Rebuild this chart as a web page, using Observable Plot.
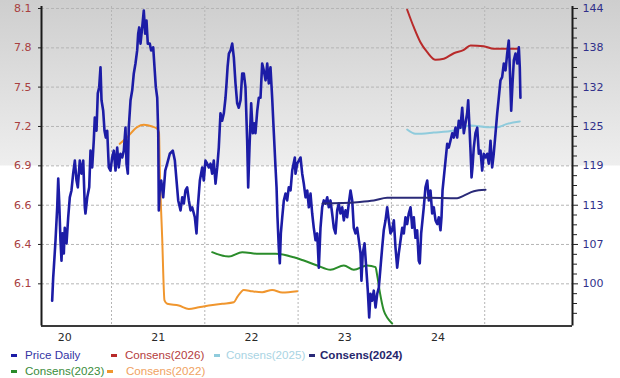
<!DOCTYPE html>
<html>
<head>
<meta charset="utf-8">
<script src="https://cdn.jsdelivr.net/npm/d3@7"></script>
<script src="https://cdn.jsdelivr.net/npm/@observablehq/plot@0.6"></script>
<style>
  html, body { margin: 0; padding: 0; }
  body {
    width: 620px; height: 378px; overflow: hidden;
    background: linear-gradient(to bottom, #cecece 0px, #eeeeee 165px, #ffffff 166px, #ffffff 378px);
    font-family: "Liberation Sans", Arial, sans-serif;
  }
  #legend { position: relative; width: 620px; height: 33px; font-size: 11.6px; }
  .item { position: absolute; white-space: nowrap; line-height: 14px; }
  .dash { position: absolute; width: 6px; height: 3px; }
</style>
</head>
<body>
<div id="chart"></div>
<div id="legend"></div>
<script>
// ---- data (x = decimal year) ----
const priceYears = [2020.364,2020.375,2020.382,2020.400,2020.418,2020.429,2020.439,2020.453,2020.464,2020.475,2020.489,2020.499,2020.518,2020.536,2020.553,2020.571,2020.589,2020.607,2020.625,2020.639,2020.660,2020.678,2020.697,2020.714,2020.721,2020.740,2020.761,2020.775,2020.793,2020.810,2020.821,2020.839,2020.853,2020.868,2020.882,2020.893,2020.911,2020.925,2020.939,2020.954,2020.971,2020.989,2021.007,2021.025,2021.043,2021.061,2021.078,2021.096,2021.115,2021.132,2021.150,2021.161,2021.175,2021.185,2021.204,2021.222,2021.239,2021.257,2021.275,2021.286,2021.297,2021.311,2021.329,2021.346,2021.361,2021.375,2021.389,2021.410,2021.425,2021.447,2021.461,2021.475,2021.490,2021.501,2021.507,2021.518,2021.533,2021.554,2021.576,2021.597,2021.625,2021.657,2021.679,2021.697,2021.715,2021.740,2021.758,2021.775,2021.793,2021.811,2021.829,2021.847,2021.865,2021.893,2021.911,2021.925,2021.947,2021.972,2021.989,2022.007,2022.026,2022.043,2022.061,2022.079,2022.096,2022.115,2022.133,2022.150,2022.168,2022.186,2022.204,2022.222,2022.233,2022.244,2022.258,2022.276,2022.294,2022.311,2022.329,2022.347,2022.364,2022.383,2022.401,2022.418,2022.436,2022.454,2022.465,2022.479,2022.497,2022.514,2022.529,2022.543,2022.562,2022.579,2022.597,2022.615,2022.632,2022.651,2022.669,2022.686,2022.704,2022.722,2022.740,2022.758,2022.769,2022.779,2022.793,2022.804,2022.815,2022.830,2022.847,2022.865,2022.883,2022.900,2022.919,2022.937,2022.965,2022.972,2022.990,2023.008,2023.026,2023.044,2023.061,2023.080,2023.098,2023.115,2023.133,2023.151,2023.168,2023.187,2023.205,2023.222,2023.240,2023.258,2023.275,2023.294,2023.312,2023.329,2023.347,2023.365,2023.383,2023.401,2023.419,2023.436,2023.454,2023.473,2023.490,2023.508,2023.526,2023.543,2023.562,2023.580,2023.597,2023.615,2023.633,2023.651,2023.669,2023.679,2023.693,2023.712,2023.730,2023.747,2023.762,2023.776,2023.794,2023.811,2023.830,2023.848,2023.865,2023.883,2023.901,2023.918,2023.937,2023.955,2023.972,2023.990,2024.008,2024.026,2024.044,2024.062,2024.079,2024.098,2024.116,2024.133,2024.151,2024.169,2024.186,2024.205,2024.223,2024.240,2024.258,2024.276,2024.293,2024.304,2024.319,2024.333,2024.347,2024.365,2024.384,2024.401,2024.419,2024.437,2024.454,2024.473,2024.491,2024.508,2024.526,2024.537,2024.548,2024.562,2024.580,2024.598,2024.615,2024.633,2024.652,2024.669,2024.687,2024.705,2024.722,2024.740,2024.759,2024.776,2024.794,2024.812,2024.823,2024.837,2024.848,2024.859,2024.869,2024.883,2024.901,2024.920,2024.937,2024.955,2024.973,2024.990,2025.009,2025.027,2025.044,2025.062,2025.080,2025.097,2025.116,2025.134,2025.151,2025.169,2025.187,2025.205,2025.223,2025.241,2025.258,2025.269,2025.284,2025.298,2025.312,2025.330,2025.348,2025.366,2025.376,2025.383];
const priceValues = [97.3,101.0,102.6,107.0,112.3,116.9,113.4,107.0,103.7,108.1,104.9,109.0,106.5,110.7,113.9,115.0,117.7,119.8,116.6,115.5,119.8,117.7,119.8,112.3,111.3,113.9,115.5,121.4,118.7,123.0,126.7,124.6,130.6,131.6,134.8,129.5,127.8,124.6,123.5,124.6,118.7,118.2,120.3,121.4,118.2,121.9,118.7,120.9,120.3,121.4,125.1,119.3,117.7,125.1,129.5,131.1,133.8,135.4,137.5,140.2,141.2,138.6,141.2,143.9,140.2,142.3,138.6,138.6,137.5,138.0,134.8,131.6,129.9,124.2,111.8,115.5,116.6,113.9,118.2,119.3,120.9,121.4,119.8,116.6,113.4,111.8,113.9,112.9,115.0,115.5,113.4,111.8,112.3,110.7,108.1,112.3,116.6,118.7,116.6,119.8,119.3,118.7,119.3,117.7,119.8,116.1,118.7,121.9,127.4,126.2,127.4,129.9,132.2,134.8,137.0,137.5,138.6,136.4,132.2,129.0,128.3,129.5,133.8,133.8,131.6,123.0,115.5,121.9,129.0,124.2,125.8,124.2,127.8,129.9,129.9,135.4,134.3,132.7,135.4,132.2,134.8,129.9,124.2,118.7,115.5,110.7,105.8,103.3,108.1,110.7,113.4,114.5,113.4,115.5,115.0,118.2,120.3,117.7,119.3,119.8,120.3,117.7,116.1,113.9,115.0,112.3,114.5,111.3,109.0,107.0,108.1,102.6,109.0,112.3,113.4,112.9,113.9,112.3,113.4,111.3,109.0,108.1,111.8,112.9,111.3,112.3,110.2,111.8,110.7,112.9,115.0,113.4,109.0,108.1,109.0,107.0,104.9,100.5,104.9,106.5,102.6,98.9,94.6,98.4,97.3,98.9,96.2,98.4,99.4,102.6,105.8,108.6,110.2,112.3,110.2,108.1,108.6,110.2,105.8,102.6,104.9,107.0,109.0,108.1,110.7,109.6,111.3,112.3,109.0,110.7,107.4,108.6,103.7,103.3,108.1,110.2,112.3,115.5,116.6,113.4,115.0,111.3,112.3,110.2,109.6,110.7,108.6,110.7,115.0,117.1,119.8,122.5,121.9,123.0,124.2,123.5,125.1,123.5,126.2,125.1,128.3,124.2,125.8,127.4,129.5,125.1,121.4,117.1,118.7,121.9,124.2,125.1,120.9,121.4,118.2,120.9,120.3,120.9,119.3,123.0,118.7,120.9,124.2,127.4,129.9,132.7,133.2,135.4,134.3,137.0,139.1,134.8,127.8,132.2,135.9,137.0,135.4,138.0,134.8,129.9];

const cons2026Years = [2024.169,2024.240,2024.311,2024.384,2024.473,2024.562,2024.669,2024.776,2024.848,2024.990,2025.097,2025.241,2025.366];
const cons2026Values = [8.091,7.964,7.855,7.783,7.727,7.735,7.775,7.800,7.831,7.826,7.807,7.807,7.807];
const cons2025Years = [2024.169,2024.258,2024.454,2024.669,2024.848,2025.027,2025.134,2025.241,2025.376];
const cons2025Values = [7.221,7.190,7.199,7.214,7.250,7.238,7.238,7.262,7.279];
const cons2024Years = [2023.262,2023.633,2023.811,2023.955,2024.098,2024.384,2024.705,2024.776,2024.883,2025.009];
const cons2024Values = [6.683,6.693,6.705,6.725,6.725,6.725,6.722,6.741,6.773,6.783];
const cons2023Years = [2022.079,2022.258,2022.401,2022.579,2022.758,2022.954,2023.061,2023.205,2023.347,2023.490,2023.597,2023.740,2023.830,2023.848,2023.876,2023.918,2023.960,2024.008];
const cons2023Values = [6.330,6.298,6.330,6.318,6.318,6.293,6.269,6.233,6.202,6.233,6.202,6.233,6.221,6.160,6.040,5.906,5.850,5.812];
const cons2022Years = [2021.089,2021.168,2021.275,2021.346,2021.436,2021.490,2021.509,2021.518,2021.543,2021.568,2021.597,2021.721,2021.829,2021.936,2022.043,2022.186,2022.311,2022.347,2022.418,2022.508,2022.615,2022.722,2022.830,2022.990];
const cons2022Values = [7.117,7.165,7.238,7.255,7.243,7.226,7.200,6.923,6.436,5.979,5.955,5.942,5.918,5.930,5.942,5.955,5.966,6.003,6.056,6.046,6.039,6.056,6.037,6.046];

const leftTickValues = [6.1, 6.386, 6.671, 6.957, 7.243, 7.529, 7.814, 8.1];
const leftTickLabels = ["6.1", "6.4", "6.6", "6.9", "7.2", "7.5", "7.8", "8.1"];
const rightTickLabels = ["100", "107", "113", "119", "125", "132", "138", "144"];
const yearBoundaries = [2021, 2022, 2023, 2024, 2025];
const xLabelYears = [2020.5, 2021.5, 2022.5, 2023.5, 2024.5];
const xTickLabels = ["20", "21", "22", "23", "24"];

const seriesNames = ["Price Daily", "Consens(2026)", "Consens(2025)", "Consens(2024)", "Consens(2023)", "Consens(2022)"];
const seriesColors = ["#1c1ca6", "#b82a2a", "#8fcbdc", "#2a2a78", "#2a8c2a", "#f0962e"];
const legendTextColors = ["#3434a4", "#b43c3c", "#a9d4e3", "#26266c", "#3a8c3a", "#f0a262"];

// ---- helpers ----
// right axis (price) mapped onto left (consensus) units
const K = 6.223 / 137.65;
const toLeft = p => 6.1 + (p - 100) * K;
const zip = (xs, ys) => xs.map((x, i) => ({x, y: ys[i]}));

const price = priceYears.map((x, i) => ({x, y: toLeft(priceValues[i])}));
const c2026 = zip(cons2026Years, cons2026Values);
const c2025 = zip(cons2025Years, cons2025Values);
const c2024 = zip(cons2024Years, cons2024Values);
const c2023 = zip(cons2023Years, cons2023Values);
const c2022 = zip(cons2022Years, cons2022Values);

const xDomain = [2020.2497, 2025.941];
const yDomain = [5.793, 8.1145];
const step = (leftTickValues[7] - leftTickValues[0]) / 7 / 4;
const minorTicks = d3.range(-4, 29).filter(j => j % 4 !== 0).map(j => 6.1 + j * step).filter(v => v > yDomain[0] && v < yDomain[1]);
const idx = (arr, d) => arr.findIndex(t => Math.abs(t - d) < 1e-6);

const consLine = (data, color) => Plot.line(data, {x: "x", y: "y", stroke: color, strokeWidth: 2, curve: "monotone-x"});

const chart = Plot.plot({
  width: 620,
  height: 345,
  marginLeft: 41,
  marginRight: 48,
  marginTop: 6,
  marginBottom: 19.4,
  x: {type: "linear", domain: xDomain, axis: null},
  y: {type: "linear", domain: yDomain, axis: null},
  style: {background: "transparent", fontFamily: "'DejaVu Sans', Verdana, sans-serif", fontSize: "11px", overflow: "visible"},
  marks: [
    Plot.gridY(leftTickValues, {stroke: "#b5b5b5", strokeOpacity: 1, strokeDasharray: "3,2"}),
    Plot.gridX(yearBoundaries, {stroke: "#b5b5b5", strokeOpacity: 1, strokeDasharray: "2,2"}),
    consLine(c2022, seriesColors[5]),
    consLine(c2023, seriesColors[4]),
    consLine(c2025, seriesColors[2]),
    consLine(c2026, seriesColors[1]),
    Plot.line(price, {x: "x", y: "y", stroke: seriesColors[0], strokeWidth: 2.6, strokeLinejoin: "round"}),
    consLine(c2024, seriesColors[3]),
    Plot.ruleY([yDomain[0]], {stroke: "#3a3a3a", strokeWidth: 2}),
    Plot.ruleX([xDomain[0]], {stroke: "#1a1a1a", strokeWidth: 2}),
    Plot.ruleX([xDomain[1]], {stroke: "#1a1a1a", strokeWidth: 2}),
    Plot.axisY(leftTickValues, {anchor: "left", label: null, tickSize: 3, tickPadding: 7, stroke: "#222", fill: "#a8403f",
      tickFormat: d => leftTickLabels[idx(leftTickValues, d)]}),
    Plot.axisY(leftTickValues, {anchor: "right", label: null, tickSize: 5, tickPadding: 5, stroke: "#222", fill: "#30308a",
      tickFormat: d => rightTickLabels[idx(leftTickValues, d)]}),
    Plot.axisY(minorTicks, {anchor: "right", label: null, tickSize: 4, stroke: "#222", tickFormat: () => ""}),
    Plot.axisX(xLabelYears, {anchor: "bottom", label: null, tickSize: 0, tickPadding: 7, fill: "#2a2a2a",
      tickFormat: d => xTickLabels[idx(xLabelYears, d)]})
  ]
});
document.getElementById("chart").appendChild(chart);

// ---- legend ----
const legendSlots = [
  {dash: 11, text: 25, top: 3}, {dash: 111, text: 125, top: 3}, {dash: 214, text: 226, top: 3}, {dash: 309, text: 320, top: 3},
  {dash: 11, text: 25, top: 19}, {dash: 107, text: 126, top: 19}
];
const legend = document.getElementById("legend");
seriesNames.forEach((name, i) => {
  const s = legendSlots[i];
  const dash = document.createElement("div");
  dash.className = "dash";
  dash.style.left = s.dash + "px";
  dash.style.top = (s.top + 6) + "px";
  dash.style.background = seriesColors[i];
  legend.appendChild(dash);
  const t = document.createElement("div");
  t.className = "item";
  t.style.left = s.text + "px";
  t.style.top = s.top + "px";
  t.style.color = legendTextColors[i];
  if (i === 3) t.style.fontWeight = "bold";
  t.textContent = name;
  legend.appendChild(t);
});
</script>
</body>
</html>
